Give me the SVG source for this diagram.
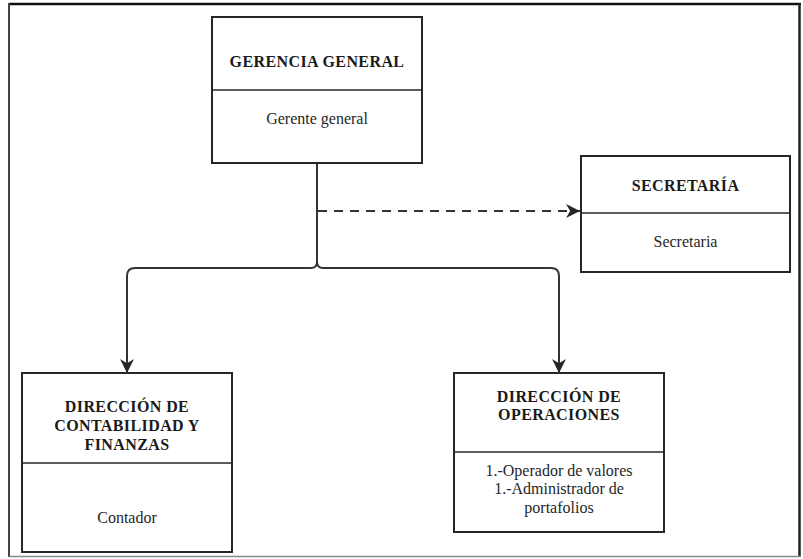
<svg xmlns="http://www.w3.org/2000/svg" width="803" height="559" viewBox="0 0 803 559">
  <style>
    .box { fill: #ffffff; stroke: #262626; stroke-width: 2; }
    .div { stroke: #262626; stroke-width: 1.6; }
    .title { font-family: "Liberation Serif", "Times New Roman", serif; font-weight: bold; font-size: 16px; letter-spacing: 0.4px; fill: #1a1a1a; text-anchor: middle; }
    .body { font-family: "Liberation Serif", "Times New Roman", serif; font-size: 16px; fill: #262626; text-anchor: middle; }
    .wire { fill: none; stroke: #333333; stroke-width: 2; }
    .dash { fill: none; stroke: #333333; stroke-width: 2.2; stroke-dasharray: 9 7; }
  </style>
  <defs>
    <marker id="arrowBig" viewBox="0 0 10 10" refX="10" refY="5" markerWidth="14" markerHeight="14" markerUnits="userSpaceOnUse" orient="auto">
      <path d="M0,0 L10,5 L0,10 L3,5 Z" fill="#262626"/>
    </marker>
  </defs>

  <rect width="803" height="559" fill="#ffffff"/>
  <!-- outer frame -->
  <line x1="9" y1="4" x2="801" y2="4" stroke="#111" stroke-width="2.5"/>
  <line x1="9" y1="3" x2="9" y2="557" stroke="#444" stroke-width="2"/>
  <line x1="799.5" y1="3" x2="799.5" y2="557" stroke="#222" stroke-width="2.5"/>
  <line x1="9" y1="556.5" x2="801" y2="556.5" stroke="#888" stroke-width="1.5"/>

  <g id="connectors">
    <path class="wire" d="M317,163 V262 Q317,268 311,268 H135 Q127,268 127,276 V373" marker-end="url(#arrowBig)"/>
    <path class="wire" d="M317,262 Q317,268 323,268 H551 Q559,268 559,276 V373" marker-end="url(#arrowBig)"/>
    <path class="dash" d="M318,211 H580" marker-end="url(#arrowBig)"/>
  </g>

  <g id="gerencia-general">
    <rect class="box" x="212" y="17" width="210" height="146"/>
    <line class="div" x1="212" y1="90" x2="422" y2="90"/>
    <text class="title" x="317" y="67">GERENCIA GENERAL</text>
    <text class="body" x="317" y="124">Gerente general</text>
  </g>

  <g id="secretaria">
    <rect class="box" x="581" y="156" width="209" height="116"/>
    <line class="div" x1="581" y1="213" x2="790" y2="213"/>
    <text class="title" x="685.5" y="191">SECRETARÍA</text>
    <text class="body" x="685.5" y="247">Secretaria</text>
  </g>

  <g id="direccion-contabilidad">
    <rect class="box" x="22" y="373" width="210" height="179"/>
    <line class="div" x1="22" y1="463" x2="232" y2="463"/>
    <text class="title" x="127" y="412">DIRECCIÓN DE</text>
    <text class="title" x="127" y="431">CONTABILIDAD Y</text>
    <text class="title" x="127" y="450">FINANZAS</text>
    <text class="body" x="127" y="523">Contador</text>
  </g>

  <g id="direccion-operaciones">
    <rect class="box" x="454" y="373" width="210" height="159"/>
    <line class="div" x1="454" y1="452" x2="664" y2="452"/>
    <text class="title" x="559" y="402">DIRECCIÓN DE</text>
    <text class="title" x="559" y="420">OPERACIONES</text>
    <text class="body" x="559" y="476">1.-Operador de valores</text>
    <text class="body" x="559" y="494">1.-Administrador de</text>
    <text class="body" x="559" y="513">portafolios</text>
  </g>
</svg>
